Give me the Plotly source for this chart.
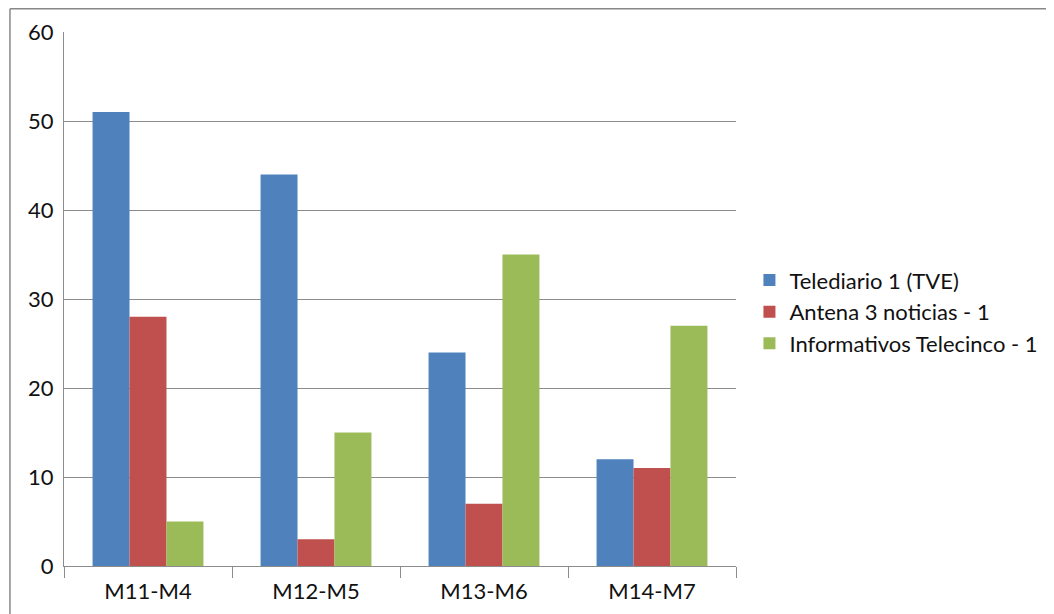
import plotly.graph_objects as go

categories = ["M11-M4", "M12-M5", "M13-M6", "M14-M7"]
series_names = ["Telediario 1 (TVE)", "Antena 3 noticias - 1", "Informativos Telecinco - 1"]
tve = [51, 44, 24, 12]
antena3 = [28, 3, 7, 11]
telecinco = [5, 15, 35, 27]
colors = ["#4F81BD", "#C0504D", "#9BBB59"]
y_ticks = [0, 10, 20, 30, 40, 50, 60]

fig = go.Figure()
for name, vals, col in zip(series_names, [tve, antena3, telecinco], colors):
    fig.add_trace(go.Bar(x=categories, y=vals, name=name, marker=dict(color=col, line=dict(width=0))))

FONT = "Lato, 'Open Sans', sans-serif"
grid = "#8C8C8C"
FS = 22

fig.update_layout(
    width=1046, height=606,
    margin=dict(l=56, r=318, t=24, b=48, autoexpand=False),
    paper_bgcolor="white", plot_bgcolor="white",
    barmode="group", bargap=0.34, bargroupgap=0,
    font=dict(family=FONT, size=FS, color="#111111"),
    legend=dict(x=1.02, y=0.476, xanchor="left", yanchor="middle",
                font=dict(family=FONT, size=FS, color="#111111"),
                itemwidth=30, tracegroupgap=0, bgcolor="rgba(0,0,0,0)"),
    xaxis=dict(showline=True, linecolor=grid, linewidth=1, tickson="boundaries",
               ticks="outside", ticklen=11, tickcolor=grid, showgrid=False,
               ticklabelstandoff=6,
               tickfont=dict(family=FONT, size=FS, color="#111111")),
    yaxis=dict(range=[0, 60], tickvals=y_ticks, showgrid=True, gridcolor=grid, gridwidth=1,
               showline=True, linecolor=grid, linewidth=1, zeroline=False, ticks="",
               ticklabelstandoff=5, tickfont=dict(family=FONT, size=FS, color="#111111")),
    shapes=[
        dict(type="line", xref="paper", yref="paper", x0=-0.0804, x1=1.5, y0=1.0435, y1=1.0435,
             line=dict(color="#888888", width=1.5)),
        dict(type="line", xref="paper", yref="paper", x0=-0.0804, x1=-0.0804, y0=1.0435, y1=-0.2,
             line=dict(color="#888888", width=1.5)),
    ],
)

fig.write_html("out.html")
